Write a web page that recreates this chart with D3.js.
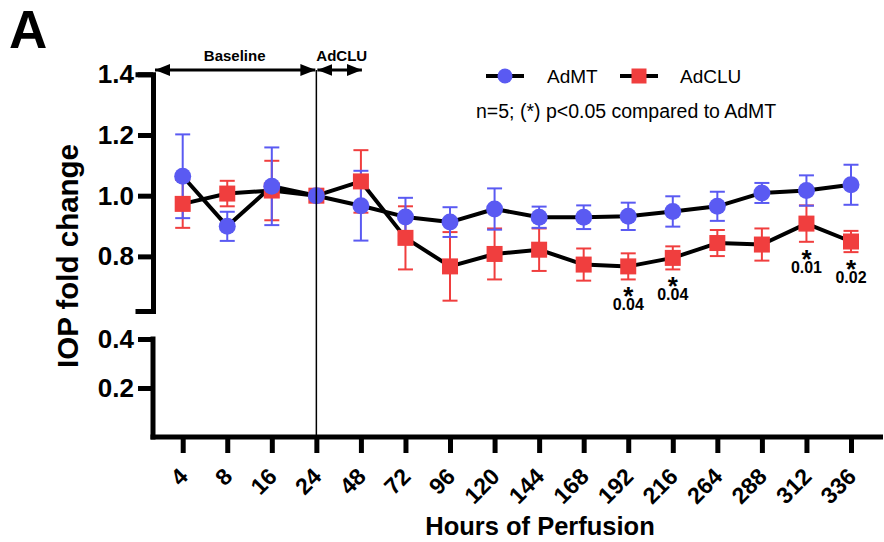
<!DOCTYPE html>
<html>
<head>
<meta charset="utf-8">
<script src="https://cdn.jsdelivr.net/npm/d3@7"></script>
<style>
  html, body { margin: 0; padding: 0; background: #fff; }
  svg { display: block; font-family: "Liberation Sans", Arial, sans-serif; }
</style>
</head>
<body>
<svg id="chart" width="884" height="542"></svg>
<script>
// ---------- data ----------
const hours = ["4","8","16","24","48","72","96","120","144","168","192","216","264","288","312","336"];
const admtMean = [1.064, 0.899, 1.031, 1.0, 0.967, 0.930, 0.913, 0.956, 0.929, 0.929, 0.932, 0.948, 0.965, 1.009, 1.017, 1.036];
const admtSem  = [0.138, 0.048, 0.128, 0.0, 0.115, 0.063, 0.049, 0.068, 0.035, 0.039, 0.045, 0.050, 0.048, 0.033, 0.050, 0.066];
const adcluMean = [0.973, 1.007, 1.017, 1.0, 1.047, 0.861, 0.767, 0.808, 0.822, 0.773, 0.767, 0.795, 0.844, 0.839, 0.908, 0.849];
const adcluSem  = [0.079, 0.042, 0.098, 0.0, 0.103, 0.104, 0.113, 0.084, 0.070, 0.053, 0.043, 0.038, 0.043, 0.053, 0.060, 0.035];
const pHours  = ["192","216","312","336"];
const pValues = ["0.04","0.04","0.01","0.02"];
const yTicksUpper = [0.8, 1.0, 1.2, 1.4];
const yTicksLower = [0.2, 0.4];
const seriesNames = ["AdMT", "AdCLU"];
const noteText = "n=5; (*) p<0.05 compared to AdMT";
const periodLabels = ["Baseline", "AdCLU"];
const periodStart = "24";

// ---------- styles ----------
const blue = "#5a5af2";
const red = "#f03e3e";
const svg = d3.select("#chart");

const axisX = 153;
const x = d3.scalePoint().domain(hours).range([182.7, 851]);
const yUp = d3.scaleLinear().domain([0.62, 1.4]).range([311, 74.3]);
const yLow = d3.scaleLinear().domain([0, 0.4]).range([437, 339]);

// ---------- axes ----------
const gUp = svg.append("g").attr("transform", `translate(${axisX},0)`)
  .call(d3.axisLeft(yUp).tickValues(yTicksUpper).tickFormat(d3.format(".1f")).tickSize(15).tickSizeOuter(15).tickPadding(4));
const gLow = svg.append("g").attr("transform", `translate(${axisX},0)`)
  .call(d3.axisLeft(yLow).tickValues(yTicksLower).tickFormat(d3.format(".1f")).tickSize(15).tickSizeOuter(0).tickPadding(4));
[gUp, gLow].forEach(g => {
  g.selectAll(".domain").attr("stroke", "#000").attr("stroke-width", 5).attr("stroke-linecap", "square");
  g.selectAll(".tick line").attr("stroke", "#000").attr("stroke-width", 5);
  g.selectAll(".tick text").attr("font-size", 26).attr("font-weight", "bold").attr("fill", "#000")
    .attr("font-family", "'Liberation Sans', Arial, sans-serif");
});
gLow.select(".domain").attr("d", `M0,${yLow(0.4)}V${yLow(0)}`);

const gX = svg.append("g").attr("transform", `translate(0,${yLow(0)})`)
  .call(d3.axisBottom(x).tickSize(16).tickSizeOuter(0));
gX.select(".domain").remove();
gX.selectAll(".tick line").attr("stroke", "#000").attr("stroke-width", 5);
gX.selectAll(".tick text")
  .attr("font-size", 23).attr("font-weight", "bold").attr("fill", "#000")
  .attr("font-family", "'Liberation Sans', Arial, sans-serif")
  .attr("text-anchor", "end").attr("dy", null).attr("y", null)
  .attr("transform", "translate(6,41) rotate(-45)");
svg.append("line").attr("x1", axisX - 2.5).attr("x2", 883).attr("y1", yLow(0)).attr("y2", yLow(0))
  .attr("stroke", "#000").attr("stroke-width", 5);

// ---------- series ----------
function drawSeries(means, sems, color) {
  const pts = hours.map((h, i) => ({ h, m: means[i], s: sems[i] }));
  const g = svg.append("g");
  const eb = g.selectAll(".eb").data(pts.filter(d => d.s > 0)).join("g").attr("stroke", color).attr("stroke-width", 2);
  eb.append("line").attr("x1", d => x(d.h)).attr("x2", d => x(d.h)).attr("y1", d => yUp(d.m - d.s)).attr("y2", d => yUp(d.m + d.s));
  eb.append("line").attr("x1", d => x(d.h) - 7.5).attr("x2", d => x(d.h) + 7.5).attr("y1", d => yUp(d.m + d.s)).attr("y2", d => yUp(d.m + d.s));
  eb.append("line").attr("x1", d => x(d.h) - 7.5).attr("x2", d => x(d.h) + 7.5).attr("y1", d => yUp(d.m - d.s)).attr("y2", d => yUp(d.m - d.s));
  return pts;
}
function drawLine(pts) {
  svg.append("path").datum(pts)
    .attr("d", d3.line().x(d => x(d.h)).y(d => yUp(d.m)))
    .attr("fill", "none").attr("stroke", "#000").attr("stroke-width", 4).attr("stroke-linejoin", "round");
}
const redPts = drawSeries(adcluMean, adcluSem, red);
const bluePts = drawSeries(admtMean, admtSem, blue);
drawLine(redPts);
drawLine(bluePts);
svg.append("g").selectAll("rect").data(redPts).join("rect")
  .attr("x", d => x(d.h) - 8).attr("y", d => yUp(d.m) - 8).attr("width", 16).attr("height", 16).attr("fill", red);
svg.append("g").selectAll("circle").data(bluePts).join("circle")
  .attr("cx", d => x(d.h)).attr("cy", d => yUp(d.m)).attr("r", 8.5).attr("fill", blue);

// ---------- significance annotations ----------
pHours.forEach((h, k) => {
  const i = hours.indexOf(h);
  const bottom = yUp(adcluMean[i] - adcluSem[i]);
  const t = svg.append("text").attr("text-anchor", "middle").attr("font-weight", "bold");
  t.append("tspan").attr("x", x(h)).attr("y", bottom + 26).attr("font-size", 26).text("*");
  t.append("tspan").attr("x", x(h)).attr("y", bottom + 31).attr("font-size", 16).text(pValues[k]);
});

// ---------- period markers ----------
const xs = x(periodStart);
const arrowY = 70;
const defs = svg.append("defs");
["s", "e"].forEach(id => {
  defs.append("marker").attr("id", "ah" + id).attr("viewBox", "0 0 15 12")
    .attr("refX", id === "e" ? 15 : 0).attr("refY", 6).attr("markerWidth", 15).attr("markerHeight", 12)
    .attr("markerUnits", "userSpaceOnUse").attr("orient", "auto")
    .append("path").attr("d", id === "e" ? "M0,0L15,6L0,12Z" : "M15,0L0,6L15,12Z").attr("fill", "#000");
});
svg.append("line").attr("x1", axisX + 2).attr("x2", xs - 1).attr("y1", arrowY).attr("y2", arrowY)
  .attr("stroke", "#000").attr("stroke-width", 3).attr("marker-start", "url(#ahs)").attr("marker-end", "url(#ahe)");
svg.append("line").attr("x1", xs + 1).attr("x2", x("48") + 1).attr("y1", arrowY).attr("y2", arrowY)
  .attr("stroke", "#000").attr("stroke-width", 3).attr("marker-start", "url(#ahs)").attr("marker-end", "url(#ahe)");
svg.append("text").attr("x", (axisX + xs) / 2).attr("y", 61).attr("text-anchor", "middle")
  .attr("font-size", 15).attr("font-weight", "bold").text(periodLabels[0]);
svg.append("text").attr("x", xs).attr("y", 61).attr("text-anchor", "start")
  .attr("font-size", 15).attr("font-weight", "bold").text(periodLabels[1]);
svg.append("line").attr("x1", xs).attr("x2", xs).attr("y1", arrowY).attr("y2", yLow(0))
  .attr("stroke", "#000").attr("stroke-width", 1.5);

// ---------- legend ----------
const lg = svg.append("g");
lg.append("line").attr("x1", 486).attr("x2", 524).attr("y1", 76).attr("y2", 76).attr("stroke", "#000").attr("stroke-width", 4);
lg.append("circle").attr("cx", 505).attr("cy", 76).attr("r", 7.5).attr("fill", blue);
lg.append("text").attr("x", 547).attr("y", 83).attr("font-size", 19).text(seriesNames[0]);
lg.append("line").attr("x1", 620).attr("x2", 658).attr("y1", 76).attr("y2", 76).attr("stroke", "#000").attr("stroke-width", 4);
lg.append("rect").attr("x", 631.5).attr("y", 68.5).attr("width", 15).attr("height", 15).attr("fill", red);
lg.append("text").attr("x", 680).attr("y", 83).attr("font-size", 19).text(seriesNames[1]);
svg.append("text").attr("x", 476).attr("y", 118).attr("font-size", 19.5).text(noteText);

// ---------- titles ----------
svg.append("text").attr("x", 9).attr("y", 48).attr("font-size", 53).attr("font-weight", "bold").text("A");
svg.append("text").attr("transform", "translate(78,256) rotate(-90)").attr("text-anchor", "middle")
  .attr("font-size", 29.5).attr("font-weight", "bold").text("IOP fold change");
svg.append("text").attr("x", 540).attr("y", 535).attr("text-anchor", "middle")
  .attr("font-size", 25.5).attr("font-weight", "bold").text("Hours of Perfusion");
</script>
</body>
</html>
